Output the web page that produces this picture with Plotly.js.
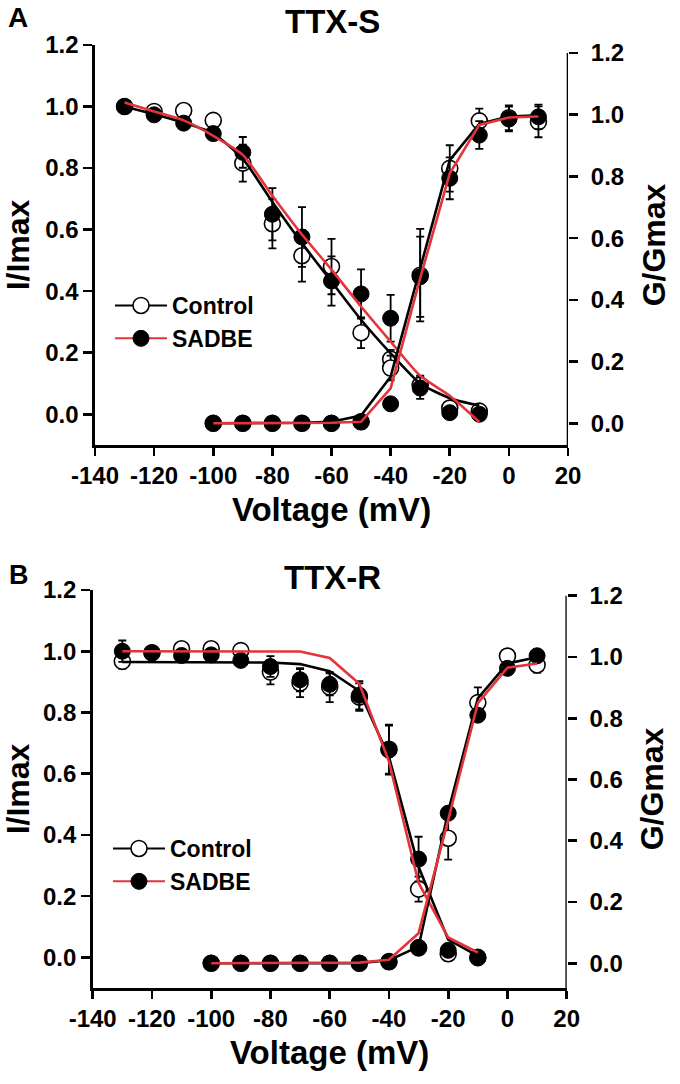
<!DOCTYPE html>
<html>
<head>
<meta charset="utf-8">
<script src="https://cdn.plot.ly/plotly-3.0.1.min.js"></script>
<style>html,body{margin:0;padding:0;background:#fff;}#chart{width:680px;height:1084px;}</style>
</head>
<body>
<div id="chart"></div>
<script>
// ---------- DATA ----------
// Panel A (TTX-S)
const vInact = [-130,-120,-110,-100,-90,-80,-70,-60,-50,-40,-30,-20,-10];
const vAct   = [-100,-90,-80,-70,-60,-50,-40,-30,-20,-10,0,10];

const A_ctrlInact    = [1.0,0.984,0.987,0.955,0.816,0.619,0.515,0.48,0.265,0.179,0.095,0.02,0.01];
const A_ctrlInactErr = [0,0.005,0.015,0.013,0.06,0.08,0.084,0.09,0.05,0.03,0.03,0,0];
const A_sadInact     = [1.0,0.973,0.946,0.912,0.851,0.65,0.576,0.433,0.391,0.312,0.085,0.005,0.0];
const A_sadInactErr  = [0,0.01,0.01,0.02,0.05,0.085,0.097,0.08,0.08,0.076,0.035,0,0];
const A_ctrlAct      = [0,0,0,0,0,0.005,0.179,0.48,0.826,0.98,0.99,0.977];
const A_ctrlActErr   = [0,0,0,0,0,0,0.04,0.15,0.075,0.04,0.04,0.05];
const A_sadAct       = [0,0,0,0,0,0.005,0.063,0.475,0.794,0.934,0.986,0.993];
const A_sadActErr    = [0,0,0,0,0,0,0,0.13,0.068,0.045,0.04,0.04];

const A_ctrlInactFit = [1.0,0.975,0.948,0.912,0.83,0.69,0.556,0.431,0.307,0.198,0.10,0.052,0.028];
const A_sadInactFit  = [1.013,0.984,0.955,0.905,0.843,0.71,0.584,0.47,0.35,0.236,0.125,0.06,-0.025];
const A_ctrlActFit   = [0,0,0,0.002,0.005,0.025,0.151,0.50,0.853,0.97,0.994,0.998];
const A_sadActFit    = [0,0,0,0,0.002,0.005,0.113,0.47,0.81,0.967,0.991,0.994];

// Panel B (TTX-R)
const B_ctrlInact    = [0.967,0.995,1.008,1.008,1.002,0.932,0.896,0.883,0.85,0.68,0.223,0.012,0.0];
const B_ctrlInactErr = [0.024,0.01,0.01,0.01,0.022,0.04,0.046,0.049,0.045,0.08,0.041,0,0];
const B_sadInact     = [1.0,0.995,0.986,0.988,0.97,0.95,0.907,0.892,0.856,0.677,0.321,0.023,-0.002];
const B_sadInactErr  = [0.035,0.01,0.01,0.01,0.01,0.034,0.038,0.036,0.046,0.08,0.073,0,0];
const B_ctrlAct      = [0,0,0,0,0,0,0.005,0.05,0.408,0.851,1.003,0.974];
const B_ctrlActErr   = [0,0,0,0,0,0,0,0,0.07,0.05,0,0.025];
const B_sadAct       = [0,0,0,0,0,0,0.005,0.051,0.49,0.81,0.963,1.004];
const B_sadActErr    = [0,0,0,0,0,0,0,0,0,0,0,0];

const B_ctrlInactFit = [0.965,0.965,0.965,0.965,0.965,0.963,0.958,0.935,0.87,0.655,0.296,0.058,0.005];
const B_sadInactFit  = [1.0,1.0,1.0,1.0,1.0,1.0,0.999,0.978,0.894,0.64,0.243,0.065,0.016];
const B_ctrlActFit   = [0,0,0,0,0,0,0.01,0.054,0.495,0.865,0.979,0.999];
const B_sadActFit    = [0,0,0,0,0,0.002,0.011,0.098,0.468,0.849,0.965,0.979];

const xTicks = [-140,-120,-100,-80,-60,-40,-20,0,20];
const xTickText = ['-140','-120','-100','-80','-60','-40','-20','0','20'];
const yTicks = [0,0.2,0.4,0.6,0.8,1.0,1.2];
const yTickText = ['0.0','0.2','0.4','0.6','0.8','1.0','1.2'];
const seriesNames = ['Control','SADBE'];
const panelTitles = ['TTX-S','TTX-R'];
const panelLetters = ['A','B'];
const xTitle = 'Voltage (mV)';
const yLeftTitle = 'I/Imax';
const yRightTitle = 'G/Gmax';

// ---------- STYLE ----------
const RED = '#e2343a';
const FONT = 'Liberation Sans, Arial, Helvetica, sans-serif';
const MS = 16;

function openMarkers(x, y, err, xa, ya) {
  return {x, y, xaxis: xa, yaxis: ya, type: 'scatter', mode: 'markers', showlegend: false,
    marker: {symbol: 'circle', size: MS, color: '#ffffff', line: {color: '#000', width: 1.6}},
    error_y: {type: 'data', array: err, visible: true, color: '#000', thickness: 1.8, width: 4},
    hoverinfo: 'skip'};
}
function filledMarkers(x, y, err, xa, ya) {
  return {x, y, xaxis: xa, yaxis: ya, type: 'scatter', mode: 'markers', showlegend: false,
    marker: {symbol: 'circle', size: MS, color: '#000', line: {color: '#000', width: 1}},
    error_y: {type: 'data', array: err, visible: true, color: '#000', thickness: 1.8, width: 4},
    hoverinfo: 'skip'};
}
function fitLine(x, y, color, xa, ya, smooth) {
  const line = {color, width: 2.6};
  if (smooth) { line.shape = 'spline'; line.smoothing = 0.6; }
  return {x, y, xaxis: xa, yaxis: ya, type: 'scatter', mode: 'lines', showlegend: false,
    line, hoverinfo: 'skip'};
}

const traces = [
  // Panel A
  openMarkers(vInact, A_ctrlInact, A_ctrlInactErr, 'x', 'y'),
  filledMarkers(vInact, A_sadInact, A_sadInactErr, 'x', 'y'),
  fitLine(vInact, A_ctrlInactFit, '#000', 'x', 'y', true),
  fitLine(vInact, A_sadInactFit, RED, 'x', 'y', true),
  openMarkers(vAct, A_ctrlAct, A_ctrlActErr, 'x', 'y2'),
  filledMarkers(vAct, A_sadAct, A_sadActErr, 'x', 'y2'),
  fitLine(vAct, A_ctrlActFit, '#000', 'x', 'y2'),
  fitLine(vAct, A_sadActFit, RED, 'x', 'y2'),
  // Panel B
  openMarkers(vInact, B_ctrlInact, B_ctrlInactErr, 'x2', 'y3'),
  filledMarkers(vInact, B_sadInact, B_sadInactErr, 'x2', 'y3'),
  fitLine(vInact, B_ctrlInactFit, '#000', 'x2', 'y3'),
  fitLine(vInact, B_sadInactFit, RED, 'x2', 'y3'),
  openMarkers(vAct, B_ctrlAct, B_ctrlActErr, 'x2', 'y4'),
  filledMarkers(vAct, B_sadAct, B_sadActErr, 'x2', 'y4'),
  fitLine(vAct, B_ctrlActFit, '#000', 'x2', 'y4'),
  fitLine(vAct, B_sadActFit, RED, 'x2', 'y4'),
];

// legend entries
['legend','legend2'].forEach((lg, i) => {
  const xa = i === 0 ? 'x' : 'x2', ya = i === 0 ? 'y' : 'y3';
  traces.push({x: [null], y: [null], xaxis: xa, yaxis: ya, type: 'scatter', mode: 'lines+markers',
    name: seriesNames[0], legend: lg, line: {color: '#000', width: 2},
    marker: {symbol: 'circle', size: 16, color: '#fff', line: {color: '#000', width: 1.6}}});
  traces.push({x: [null], y: [null], xaxis: xa, yaxis: ya, type: 'scatter', mode: 'lines+markers',
    name: seriesNames[1], legend: lg, line: {color: RED, width: 2},
    marker: {symbol: 'circle', size: 16, color: '#000', line: {color: '#000', width: 1}}});
});

const W = 680, H = 1084;
const tickFont = {family: FONT, size: 24, color: '#000', weight: 'bold'};
const titleFont = {family: FONT, size: 32, color: '#000', weight: 'bold'};

function xAxis(domain, anchor) {
  return {domain, anchor, range: [-140, 20], tickmode: 'array', tickvals: xTicks, ticktext: xTickText,
    showgrid: false, zeroline: false, showline: true, linewidth: 2.6, linecolor: '#000',
    ticks: 'outside', ticklen: 8, tickwidth: 2.6, tickcolor: '#000', tickfont: tickFont,
    title: {text: xTitle, font: {family: FONT, size: 33, color: '#000', weight: 'bold'}, standoff: 10},
    automargin: false, fixedrange: true};
}
function yLeft(domain, anchor) {
  return {domain, anchor, range: [-0.1, 1.2], tickmode: 'array', tickvals: yTicks, ticktext: yTickText,
    showgrid: false, zeroline: false, showline: true, linewidth: 2.6, linecolor: '#000',
    ticks: 'outside', ticklen: 9, tickwidth: 2.6, tickcolor: '#000', tickfont: tickFont,
    title: {text: yLeftTitle, font: titleFont, standoff: 6}, automargin: false, fixedrange: true};
}
function yRight(range, overlay, anchor) {
  return {overlaying: overlay, side: 'right', anchor, range, tickmode: 'array', tickvals: yTicks, ticktext: yTickText,
    showgrid: false, zeroline: false, showline: false,
    ticks: 'outside', ticklen: 9, tickwidth: 2.6, tickcolor: '#000', tickfont: tickFont,
    ticklabelstandoff: 8,
    title: {text: yRightTitle, font: titleFont, standoff: 18}, automargin: false, fixedrange: true};
}

const rA = [-0.0703, 1.2259];
const rB = [-0.081, 1.2188];

const legendFont = {family: FONT, size: 23, color: '#000', weight: 'bold'};

const layout = {
  width: W, height: H, margin: {l: 0, r: 0, t: 0, b: 0},
  paper_bgcolor: '#fff', plot_bgcolor: '#fff', font: {family: FONT, color: '#000'},
  xaxis: xAxis([95/W, 568/W], 'y'),
  yaxis: yLeft([1 - 445/H, 1 - 45/H], 'x'),
  yaxis2: yRight(rA, 'y', 'x'),
  xaxis2: xAxis([92.7/W, 566.7/W], 'y3'),
  yaxis3: yLeft([1 - 988/H, 1 - 590/H], 'x2'),
  yaxis4: yRight(rB, 'y3', 'x2'),
  legend: {x: 110/W, y: 1 - 284/H, xanchor: 'left', yanchor: 'top', bgcolor: 'rgba(0,0,0,0)',
    font: legendFont, itemwidth: 52, tracegroupgap: 0},
  legend2: {x: 108/W, y: 1 - 827/H, xanchor: 'left', yanchor: 'top', bgcolor: 'rgba(0,0,0,0)',
    font: legendFont, itemwidth: 52, tracegroupgap: 0},
  shapes: [
    {type: 'line', xref: 'x', yref: 'y2', x0: 20, x1: 20, y0: rA[0], y1: 1.2, line: {color: '#000', width: 2.6}},
    {type: 'line', xref: 'x2', yref: 'y4', x0: 20, x1: 20, y0: rB[0], y1: 1.2, line: {color: '#000', width: 2.6}},
  ],
  annotations: [
    {text: panelTitles[0], xref: 'paper', yref: 'paper', x: 332/W, y: 1 - 21/H, showarrow: false,
      xanchor: 'center', yanchor: 'middle', font: {family: FONT, size: 33, color: '#000', weight: 'bold'}},
    {text: panelTitles[1], xref: 'paper', yref: 'paper', x: 332/W, y: 1 - 577/H, showarrow: false,
      xanchor: 'center', yanchor: 'middle', font: {family: FONT, size: 33, color: '#000', weight: 'bold'}},
    {text: panelLetters[0], xref: 'paper', yref: 'paper', x: 18/W, y: 1 - 18/H, showarrow: false,
      xanchor: 'center', yanchor: 'middle', font: {family: FONT, size: 28, color: '#000', weight: 'bold'}},
    {text: panelLetters[1], xref: 'paper', yref: 'paper', x: 19/W, y: 1 - 575/H, showarrow: false,
      xanchor: 'center', yanchor: 'middle', font: {family: FONT, size: 27, color: '#000', weight: 'bold'}},
  ]
};

Plotly.newPlot('chart', traces, layout, {staticPlot: true, displayModeBar: false});
</script>
</body>
</html>
